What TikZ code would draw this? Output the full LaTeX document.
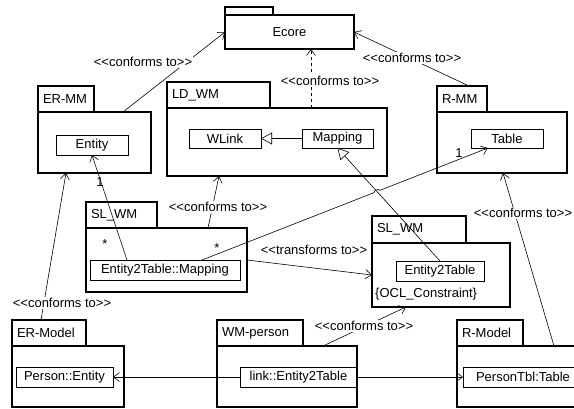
\documentclass[tikz,border=0pt]{standalone}
\usepackage{fontspec}
\setmainfont{Liberation Sans}[Ligatures=TeXOff]
\usetikzlibrary{arrows.meta,calc,intersections}
\begin{document}
\begin{tikzpicture}[x=1pt,y=-1pt,
  font=\fontsize{13}{15}\selectfont,
  pkg/.style={draw, line width=1.2pt, rectangle, anchor=north west, inner sep=0pt, outer sep=0pt},
  tab/.style={draw, line width=1.2pt, rectangle, anchor=south west, inner xsep=5pt, inner ysep=0pt, outer sep=0pt, align=left},
  cls/.style={draw, line width=0.8pt, rectangle, anchor=north west, inner sep=0pt, outer sep=0pt},
  conn/.style={line width=0.6pt, -{Straight Barb[length=6pt,width=9pt]}},
  gen/.style={line width=0.6pt, -{Triangle[open,length=11pt,width=12pt,fill=white]}},
  lbl/.style={fill=white, inner sep=1pt},
  mult/.style={inner sep=0pt},
]
\path[use as bounding box] (0,0) rectangle (574,408);
\clip (0,0) rectangle (574,408);

% ---- packages ----
\node[pkg, minimum width=129pt, minimum height=34pt] (ecore) at (225,15) {Ecore};
\node[tab, minimum width=48pt, minimum height=8pt] (ecoretab) at (ecore.north west) {};

\node[pkg, minimum width=113pt, minimum height=61pt] (ermm) at (38,112) {};
\node[tab, text width=46pt, minimum height=26pt] (ermmtab) at (ermm.north west) {ER-MM};
\node[cls, minimum width=72pt, minimum height=20pt] (entity) at (56,135) {Entity};

\node[pkg, minimum width=220pt, minimum height=68pt] (ldwm) at (167,108) {};
\node[tab, text width=93pt, minimum height=26pt] (ldwmtab) at (ldwm.north west) {LD\_WM};
\node[cls, minimum width=72pt, minimum height=19pt] (wlink) at (189,129) {WLink};
\node[cls, minimum width=71pt, minimum height=19pt] (mapping) at (302,129) {Mapping};

\node[pkg, minimum width=130pt, minimum height=61pt] (rmm) at (437,112) {};
\node[tab, text width=40pt, minimum height=26pt] (rmmtab) at (rmm.north west) {R-MM};
\node[cls, minimum width=72pt, minimum height=19pt] (table) at (471,129) {Table};

\node[pkg, minimum width=161pt, minimum height=64pt] (slwm) at (86,228) {};
\node[tab, text width=61pt, minimum height=26pt] (slwmtab) at (slwm.north west) {SL\_WM};
\node[cls, minimum width=150pt, minimum height=20pt] (e2tmap) at (90,260) {Entity2Table::Mapping};

\node[pkg, minimum width=138pt, minimum height=64pt] (slwmr) at (372,243) {};
\node[tab, text width=84pt, minimum height=27pt] (slwmrtab) at (slwmr.north west) {SL\_WM};
\node[cls, minimum width=88pt, minimum height=20pt] (e2t) at (396,261) {Entity2Table};
\node[anchor=west, inner sep=0pt] (ocl) at (375,294) {\{OCL\_Constraint\}};

\node[pkg, minimum width=112pt, minimum height=61pt] (ermodel) at (12,346) {};
\node[tab, text width=64pt, minimum height=26pt] (ermodeltab) at (ermodel.north west) {ER-Model};
\node[cls, minimum width=97pt, minimum height=20pt] (person) at (16,367) {Person::Entity};

\node[pkg, minimum width=140pt, minimum height=61pt] (wmperson) at (217,346) {};
\node[tab, text width=76pt, minimum height=26pt] (wmpersontab) at (wmperson.north west) {WM-person};
\node[cls, minimum width=117pt, minimum height=20pt] (link) at (240,367) {link::Entity2Table};

\node[pkg, minimum width=143pt, minimum height=61pt] (rmodel) at (457,346) {};
\node[tab, text width=56pt, minimum height=26pt] (rmodeltab) at (rmodel.north west) {R-Model};
\node[cls, minimum width=120pt, minimum height=20pt] (ptbl) at (463,367) {PersonTbl:Table};

% ---- connectors ----
\draw[conn] ([xshift=28.5pt]ermm.north) -- (ecore.west);
\node[lbl] (l1) at (143,62) {<<conforms to>>};

\draw[conn, dashed] ([xshift=34pt]ldwm.north) -- ([xshift=21.5pt]ecore.south);
\node[lbl] (l2) at (330,81) {<<conforms to>>};

\draw[conn] ([xshift=7pt]rmmtab.north) -- (ecore.east);
\node[lbl] (l3) at (412,58) {<<conforms to>>};

\draw[gen] (mapping.west) -- (wlink.east);

\draw[conn] ([xshift=41.5pt]slwm.north) -- ([xshift=-58pt]ldwm.south);
\node[lbl] (l4) at (218,207) {<<conforms to>>};

\draw[conn] ([xshift=-38pt]e2tmap.north) -- (entity.south);
\node[mult] (m1) at (100,182) {1};
\node[mult] (m2) at (105,244) {*};

\path[name path=genpath] (e2t.north) -- (mapping.south);
\coordinate (ta) at ([xshift=37pt]e2tmap.north);
\coordinate (tb) at ([xshift=-19pt]table.south);
\path[name path=tabpath] (ta) -- (tb);
\path[name intersections={of=genpath and tabpath, by=hx}];
\draw[conn] (ta) -- ($(hx)!3pt!(ta)$) to[bend left=90] ($(hx)!3pt!(tb)$) -- (tb);
\node[mult] (m3) at (217,248) {*};
\node[mult] (m4) at (459,153) {1};

\draw[gen] (e2t.north) -- (mapping.south);

\draw[conn] (slwm.east) -- (slwmr.west);
\node[inner sep=0pt] (l5) at (314,250) {<<transforms to>>};

\draw[conn] ([xshift=-8pt]ermodeltab.north) -- ([xshift=-28.5pt]ermm.south);
\node[lbl] (l6) at (62,303) {<<conforms to>>};

\draw[conn] ([xshift=36pt]wmperson.north) -- ([xshift=-35pt]slwmr.south);
\node[lbl] (l7) at (364,326) {<<conforms to>>};

\draw[conn] ([xshift=25.5pt]rmodel.north) -- ([xshift=1pt]rmm.south);
\node[lbl] (l8) at (523,213) {<<conforms to>>};

\draw[conn] (link.west) -- (person.east);
\draw[conn] (link.east) -- (ptbl.west);
\end{tikzpicture}
\end{document}
